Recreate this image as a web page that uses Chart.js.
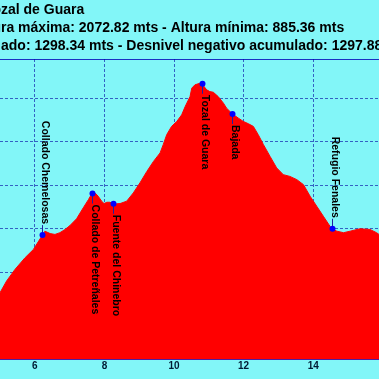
<!DOCTYPE html>
<html>
<head>
<meta charset="utf-8">
<title>Perfil Tozal de Guara</title>
<script src="https://cdn.jsdelivr.net/npm/chart.js@4.4.1/dist/chart.umd.min.js"></script>
<style>
  html, body { margin: 0; padding: 0; background: #82f6f8; overflow: hidden; }
  canvas { display: block; }
</style>
</head>
<body>
<canvas id="profile" width="379" height="379"></canvas>
<script>
// Title lines (the picture is a crop, so the start of each line falls off the left edge)
const TITLE_LINES = [
    'Tozal de Guara',
    'Altura máxima: 2072.82 mts - Altura mínima: 885.36 mts',
    'Desnivel positivo acumulado: 1298.34 mts - Desnivel negativo acumulado: 1297.88 mts'
];
const TITLE_HIDDEN = ['To', 'Altu', 'Desnivel positivo acumul'];

// Elevation profile (distance in km, elevation in m)
const DIST_KM = [4.90, 5.00, 5.19, 5.43, 5.72, 5.96, 6.22, 6.29, 6.44, 6.58, 6.72, 6.87, 7.01, 7.20, 7.39, 7.54,
    7.64, 7.73, 7.82, 7.92, 7.99, 8.07, 8.16, 8.25, 8.35, 8.45, 8.64, 8.83, 9.02, 9.22, 9.41, 9.60, 9.69, 9.79,
    9.93, 10.08, 10.22, 10.32, 10.46, 10.51, 10.60, 10.75, 10.80, 10.94, 11.03, 11.13, 11.27, 11.42, 11.51,
    11.68, 11.85, 11.99, 12.14, 12.28, 12.42, 12.57, 12.76, 12.95, 13.14, 13.33, 13.53, 13.72, 13.91, 14.10,
    14.29, 14.53, 14.68, 14.87, 15.06, 15.34, 15.63, 15.82, 15.89, 16.00];
const ELEV_M = [1080, 1105, 1159, 1212, 1266, 1304, 1370, 1388, 1377, 1373, 1381, 1396, 1414, 1445, 1495, 1533,
    1561, 1564, 1549, 1526, 1515, 1521, 1521, 1514, 1514, 1515, 1526, 1564, 1610, 1663, 1709, 1748, 1786, 1832,
    1870, 1893, 1923, 1961, 2007, 2046, 2061, 2069, 2066, 2038, 2030, 2027, 2007, 1977, 1954,
    1927, 1908, 1893, 1882, 1870, 1832, 1786, 1732, 1679, 1648, 1640, 1625, 1602, 1549, 1503,
    1457, 1399, 1388, 1381, 1388, 1399, 1396, 1381, 1373, 1365];

// Waypoints
const WAYPOINT_NAMES = ['Collado Chemelosas', 'Collado de Petreñales', 'Fuente del Chinebro',
    'Tozal de Guara', 'Bajada', 'Refugio Fenales'];
const WAYPOINT_KM = [6.22, 7.64, 8.25, 10.80, 11.68, 14.53];
const WAYPOINT_ELEV = [1370, 1561, 1514, 2066, 1927, 1399];
const WAYPOINT_SIDE = ['above', 'below', 'below', 'below', 'below', 'above'];

// Axis ticks
const X_TICKS = [6, 8, 10, 12, 14];
const Y_TICKS = [800, 1000, 1200, 1400, 1600, 1800, 2000];

const GRID_COLOR = 'rgba(0, 0, 160, 0.6)';

// Draws the title lines, top border and rotated waypoint labels
const overlayPlugin = {
    id: 'overlay',
    afterDraw(chart) {
        const { ctx, chartArea, scales } = chart;
        ctx.save();

        ctx.strokeStyle = 'rgba(0, 0, 180, 0.8)';
        ctx.lineWidth = 1;
        ctx.beginPath();
        ctx.moveTo(chartArea.left, chartArea.top + 0.5);
        ctx.lineTo(chartArea.right, chartArea.top + 0.5);
        ctx.stroke();

        ctx.fillStyle = '#000';
        ctx.font = 'bold 14px "Liberation Sans", Arial, sans-serif';
        ctx.textBaseline = 'alphabetic';
        TITLE_LINES.forEach((line, i) => {
            const hidden = ctx.measureText(TITLE_HIDDEN[i]).width;
            ctx.fillText(line, 1 - hidden, 14 + i * 18);
        });

        ctx.font = 'bold 10.5px "Liberation Sans", Arial, sans-serif';
        WAYPOINT_NAMES.forEach((name, i) => {
            const px = Math.round(scales.x.getPixelForValue(WAYPOINT_KM[i]));
            const py = scales.y.getPixelForValue(WAYPOINT_ELEV[i]);
            const up = WAYPOINT_SIDE[i] === 'above';

            ctx.strokeStyle = '#2020a0';
            ctx.beginPath();
            ctx.moveTo(px + 0.5, py);
            ctx.lineTo(px + 0.5, up ? py - 10 : py + 10);
            ctx.stroke();

            ctx.save();
            ctx.translate(px, up ? py - 11 : py + 11);
            ctx.rotate(Math.PI / 2);
            ctx.textAlign = up ? 'right' : 'left';
            ctx.fillText(name, 0, 0);
            ctx.restore();

            ctx.fillStyle = '#0000ff';
            ctx.beginPath();
            ctx.arc(px + 0.5, py, 3, 0, Math.PI * 2);
            ctx.fill();
            ctx.fillStyle = '#000';
        });

        ctx.restore();
    }
};

new Chart(document.getElementById('profile'), {
    type: 'line',
    data: {
        datasets: [{
            data: DIST_KM.map((d, i) => ({ x: d, y: ELEV_M[i] })),
            borderColor: '#ff0000',
            backgroundColor: '#ff0000',
            borderWidth: 1,
            pointRadius: 0,
            tension: 0,
            fill: 'start'
        }]
    },
    options: {
        responsive: false,
        animation: false,
        layout: { padding: { top: 59, bottom: 6, left: 0, right: 0 } },
        plugins: { legend: { display: false }, tooltip: { enabled: false } },
        scales: {
            x: {
                type: 'linear',
                min: 5.0,
                max: 15.89,
                z: 1,
                afterBuildTicks: (scale) => { scale.ticks = X_TICKS.map(v => ({ value: v })); },
                grid: { color: GRID_COLOR, drawTicks: false },
                border: { color: '#4a20a0', width: 1, dash: [3, 2] },
                ticks: {
                    padding: 1,
                    maxRotation: 0,
                    color: '#001a33',
                    font: { family: '"Liberation Sans", Arial, sans-serif', size: 10, weight: 'bold' }
                }
            },
            y: {
                min: 800,
                max: 2180,
                z: 1,
                afterBuildTicks: (scale) => { scale.ticks = Y_TICKS.map(v => ({ value: v })); },
                grid: { color: GRID_COLOR, drawTicks: false },
                border: { display: false, dash: [3, 2] },
                ticks: { display: false }
            }
        }
    },
    plugins: [overlayPlugin]
});
</script>
</body>
</html>
